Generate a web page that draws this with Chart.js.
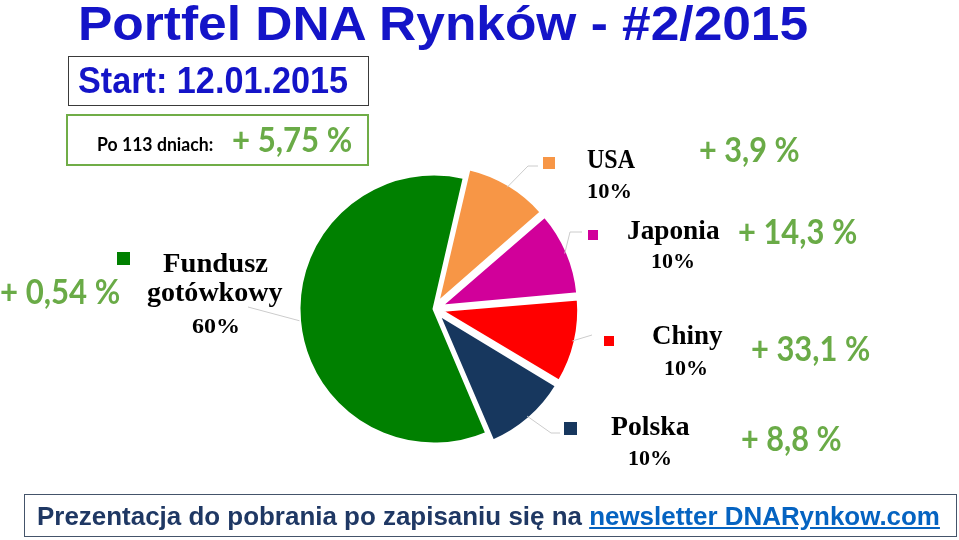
<!DOCTYPE html>
<html>
<head>
<meta charset="utf-8">
<script src="https://cdn.jsdelivr.net/npm/chart.js"></script>
<style>
  body { margin: 0; background: #fff; }
  #wrap { position: relative; width: 959px; height: 540px; overflow: hidden; }
  #pie { position: absolute; left: 0; top: 0; }
  .t { position: absolute; white-space: nowrap; line-height: 1; transform-origin: 0 0; }
  .sans { font-family: "Liberation Sans", Arial, sans-serif; font-weight: bold; }
  .cal { font-family: Lato, sans-serif; font-weight: bold; color: #6AAB47; }
  .ser { font-family: "Liberation Serif", serif; font-weight: bold; color: #000; }
  .box { position: absolute; box-sizing: border-box; }
</style>
</head>
<body>
<div id="wrap">
  <canvas id="pie" width="959" height="540"></canvas>
  <div class="box" style="left:68px;top:56px;width:301px;height:50px;border:1.5px solid #3a3a3a"></div>
  <div class="box" style="left:66px;top:114px;width:303px;height:52px;border:2.5px solid #70AD47"></div>
  <div class="box" style="left:24px;top:494px;width:933px;height:43px;border:1px solid #44546A"></div>
</div>
<script>
// data
const labels = ['Fundusz gotówkowy', 'USA', 'Japonia', 'Chiny', 'Polska'];
const shares = [60, 10, 10, 10, 10];
const returns = ['+ 0,54 %', '+ 3,9 %', '+ 14,3 %', '+ 33,1 %', '+ 8,8 %'];
const colors = ['#008000', '#F79646', '#D1009A', '#FF0000', '#17375E'];
const title = 'Portfel DNA Rynków - #2/2015';
const startDate = '12.01.2015';
const days = 113;
const totalReturn = '+ 5,75 %';

// layout of the annotations (pixels)
const markers = [[117, 252, 13], [543, 157, 12], [588, 230, 10], [604, 336, 10], [564, 422, 13]];
const leaderPath = [
  [[248, 307]],
  [[528, 166], [538, 166]],
  [[570, 232], [582, 232]],
  [[592, 335]],
  [[551, 433], [560, 433]]
];
// [line1 x, baseline, width], [line2 x, baseline, width], share [x, baseline, width]
const nameLayout = [
  [[163, 272, 105], [147, 301, 136], [192, 333, 48]],
  [[587, 168, 48], null, [587, 198, 45]],
  [[627, 239, 93], null, [651, 268, 44]],
  [[652, 344, 71], null, [664, 375, 44]],
  [[611, 435, 79], null, [628, 465, 44]]
];
const returnLayout = [[0, 304, 120], [699, 162, 101], [738, 244, 119], [751, 361, 119], [741, 451, 101]];

const wrap = document.getElementById('wrap');

function addText(html, cls, x, base, w, size, color) {
  const el = document.createElement('div');
  el.className = 't ' + cls;
  el.innerHTML = html;
  el.style.left = x + 'px';
  el.style.fontSize = size + 'px';
  if (color) el.style.color = color;
  const probe = document.createElement('span');
  probe.style.display = 'inline-block';
  probe.style.width = '0';
  probe.style.height = '0';
  el.appendChild(probe);
  wrap.appendChild(el);
  el.style.top = (base - probe.offsetTop) + 'px';
  el.style.transform = 'scaleX(' + (w / el.offsetWidth) + ')';
  return el;
}

addText(title, 'sans', 78, 40, 730, 48, '#1414C8');
addText('Start: ' + startDate, 'sans', 78, 93, 270, 37, '#1414C8');
addText('Po ' + days + ' dniach:', 'cal', 97, 151, 116, 19, '#000');
addText(totalReturn, 'cal', 232, 152, 120, 34);
addText('Prezentacja do pobrania po zapisaniu się na <span style="color:#0563C1;text-decoration:underline">newsletter DNARynkow.com</span>',
  'sans', 37, 525, 903, 26, '#1F3864');

labels.forEach((name, i) => {
  const L = nameLayout[i];
  const words = L[1] ? name.split(' ') : [name];
  addText(words[0], 'ser', L[0][0], L[0][1], L[0][2], 27);
  if (L[1]) addText(words[1], 'ser', L[1][0], L[1][1], L[1][2], 27);
  addText(shares[i] + '%', 'ser', L[2][0], L[2][1], L[2][2], 22);
  const R = returnLayout[i];
  addText(returns[i], 'cal', R[0], R[1], R[2], 34);
});

const leaders = {
  id: 'leaders',
  afterDatasetsDraw(chart) {
    const ctx = chart.ctx;
    const arcs = chart.getDatasetMeta(0).data;
    ctx.save();
    ctx.strokeStyle = '#CCCCCC';
    ctx.lineWidth = 1;
    arcs.forEach((arc, i) => {
      const p = arc.getProps(['x', 'y', 'startAngle', 'endAngle', 'outerRadius'], true);
      const off = (arc.options.offset || 0) / 4;
      const mid = (p.startAngle + p.endAngle) / 2;
      const x0 = p.x + Math.cos(mid) * (p.outerRadius + off);
      const y0 = p.y + Math.sin(mid) * (p.outerRadius + off);
      ctx.beginPath();
      ctx.moveTo(x0, y0);
      leaderPath[i].forEach(pt => ctx.lineTo(pt[0], pt[1]));
      ctx.stroke();
      const m = markers[i];
      ctx.fillStyle = colors[i];
      ctx.fillRect(m[0], m[1], m[2], m[2]);
    });
    ctx.restore();
  }
};

new Chart(document.getElementById('pie').getContext('2d'), {
  type: 'pie',
  data: {
    labels: labels,
    datasets: [{
      data: shares,
      backgroundColor: colors,
      borderColor: '#fff',
      borderWidth: 3,
      offset: [0, 28, 28, 28, 28]
    }]
  },
  options: {
    responsive: false,
    animation: false,
    rotation: 157,
    radius: 135,
    layout: { padding: { left: 0, right: 91, top: 78, bottom: 0 } },
    plugins: { legend: { display: false }, tooltip: { enabled: false } }
  },
  plugins: [leaders]
});
</script>
</body>
</html>
